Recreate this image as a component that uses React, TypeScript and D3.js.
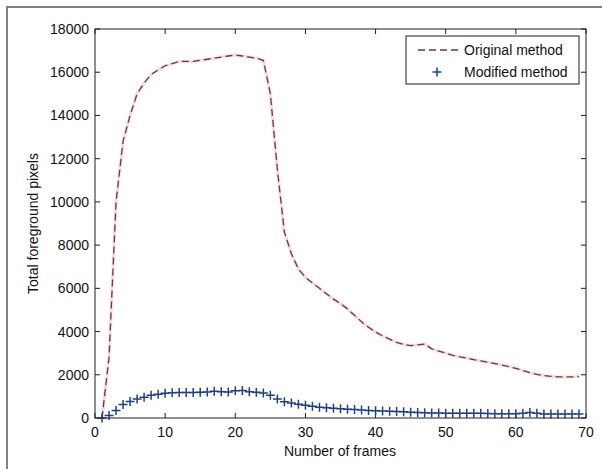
import React from 'react';
import * as d3 from 'd3';

// frame numbers (x)
const frames = [
  1, 2, 3, 4, 5, 6, 7, 8, 9, 10, 11, 12, 13, 14, 15, 16, 17, 18, 19, 20, 21, 22, 23,
  24, 25, 26, 27, 28, 29, 30, 31, 32, 33, 34, 35, 36, 37, 38, 39, 40, 41, 42, 43, 44,
  45, 46, 47, 48, 49, 50, 51, 52, 53, 54, 55, 56, 57, 58, 59, 60, 61, 62, 63, 64, 65,
  66, 67, 68, 69,
];

// total foreground pixels, original method (red dashed)
const original = [
  0, 2800, 10000, 12800, 14000, 15000, 15500, 15900, 16100, 16300, 16400, 16500, 16500,
  16500, 16550, 16600, 16650, 16700, 16750, 16800, 16750, 16700, 16650, 16550, 15000,
  11500, 8600, 7600, 6900, 6500, 6250, 6000, 5750, 5500, 5300, 5050, 4750, 4450, 4200,
  3980, 3800, 3650, 3500, 3400, 3350, 3380, 3420, 3200, 3100, 3000, 2900, 2830, 2770,
  2700, 2640, 2580, 2520, 2450, 2380, 2300, 2200, 2100, 2020, 1960, 1930, 1900, 1900,
  1900, 1920,
];

// total foreground pixels, modified method (blue +)
const modified = [
  0, 120, 350, 620, 760, 880, 960, 1050, 1100, 1150, 1170, 1180, 1180, 1180, 1190, 1200,
  1240, 1220, 1200, 1260, 1270, 1220, 1190, 1160, 1050, 880, 750, 690, 640, 590, 540, 500,
  470, 450, 430, 410, 390, 370, 350, 340, 320, 310, 300, 290, 270, 250, 240, 230, 230,
  220, 220, 220, 220, 220, 220, 210, 200, 200, 200, 200, 220, 260, 220, 190, 180, 180,
  180, 180, 180,
];

const xTicks = [0, 10, 20, 30, 40, 50, 60, 70];
const yTicks = [0, 2000, 4000, 6000, 8000, 10000, 12000, 14000, 16000, 18000];
const legendLabels = ['Original method', 'Modified method'];

const W = 602;
const H = 469;
const left = 95;
const right = 586;
const top = 29;
const bottom = 418;
const font = 'Arial, "Liberation Sans", sans-serif';
const axisColor = '#1c1c28';
const redLine = '#6a3a42';
const blueMark = '#1f3f8c';

export default function App() {
  const x = d3.scaleLinear().domain([0, 70]).range([left, right]);
  const y = d3.scaleLinear().domain([0, 18000]).range([bottom, top]);

  const line = d3
    .line<number>()
    .x((_, i) => x(frames[i]))
    .y((d) => y(d));
  const path = line(original) || '';

  const tl = 5; // tick length (inward, matlab style)
  const m = 4.5; // half size of the + marker

  return (
    <svg
      width={W}
      height={H}
      style={{ position: 'absolute', left: 0, top: 0, background: '#fff' }}
      fontFamily={font}
    >
      <rect x={0} y={0} width={W} height={H} fill="#fff" />
      {/* outer figure frame */}
      <rect x={7} y={7} width={W} height={H} fill="none" stroke="#808080" strokeWidth={2} />

      {/* ticks */}
      {xTicks.map((t) => (
        <g key={'x' + t}>
          <line x1={x(t)} x2={x(t)} y1={bottom} y2={bottom - tl} stroke={axisColor} />
          <line x1={x(t)} x2={x(t)} y1={top} y2={top + tl} stroke={axisColor} />
          <text x={x(t)} y={437} textAnchor="middle" fontSize={14} fill="#111">
            {t}
          </text>
        </g>
      ))}
      {yTicks.map((t) => (
        <g key={'y' + t}>
          <line x1={left} x2={left + tl} y1={y(t)} y2={y(t)} stroke={axisColor} />
          <line x1={right} x2={right - tl} y1={y(t)} y2={y(t)} stroke={axisColor} />
          <text x={89} y={y(t) + 5} textAnchor="end" fontSize={14} fill="#111">
            {t}
          </text>
        </g>
      ))}

      {/* original method */}
      <path d={path} fill="none" stroke="#f2b8b8" strokeWidth={3} strokeOpacity={0.5} />
      <path d={path} fill="none" stroke={redLine} strokeWidth={1.3} strokeDasharray="7,4" />

      {/* modified method */}
      {modified.map((v, i) => (
        <path
          key={'m' + i}
          d={`M${x(frames[i]) - m},${y(v)}h${2 * m}M${x(frames[i])},${y(v) - m}v${2 * m}`}
          stroke={blueMark}
          strokeWidth={1.5}
          fill="none"
        />
      ))}

      {/* axes box */}
      <rect
        x={left}
        y={top}
        width={right - left}
        height={bottom - top}
        fill="none"
        stroke={axisColor}
        strokeWidth={1}
      />

      {/* legend */}
      <g>
        <rect x={406} y={36} width={173} height={48} fill="#fff" stroke={axisColor} />
        <line x1={418} x2={462} y1={50} y2={50} stroke={redLine} strokeWidth={1.3} strokeDasharray="7,4" />
        <text x={464} y={55} fontSize={14} fill="#111">
          {legendLabels[0]}
        </text>
        <path d="M432.5,72h9M437,67.5v9" stroke={blueMark} strokeWidth={1.5} />
        <text x={464} y={77} fontSize={14} fill="#111">
          {legendLabels[1]}
        </text>
      </g>

      {/* axis labels */}
      <text x={340} y={456} textAnchor="middle" fontSize={14} fill="#111">
        Number of frames
      </text>
      <text
        transform={`translate(38,${(top + bottom) / 2}) rotate(-90)`}
        textAnchor="middle"
        fontSize={14}
        fill="#111"
      >
        Total foreground pixels
      </text>
    </svg>
  );
}
